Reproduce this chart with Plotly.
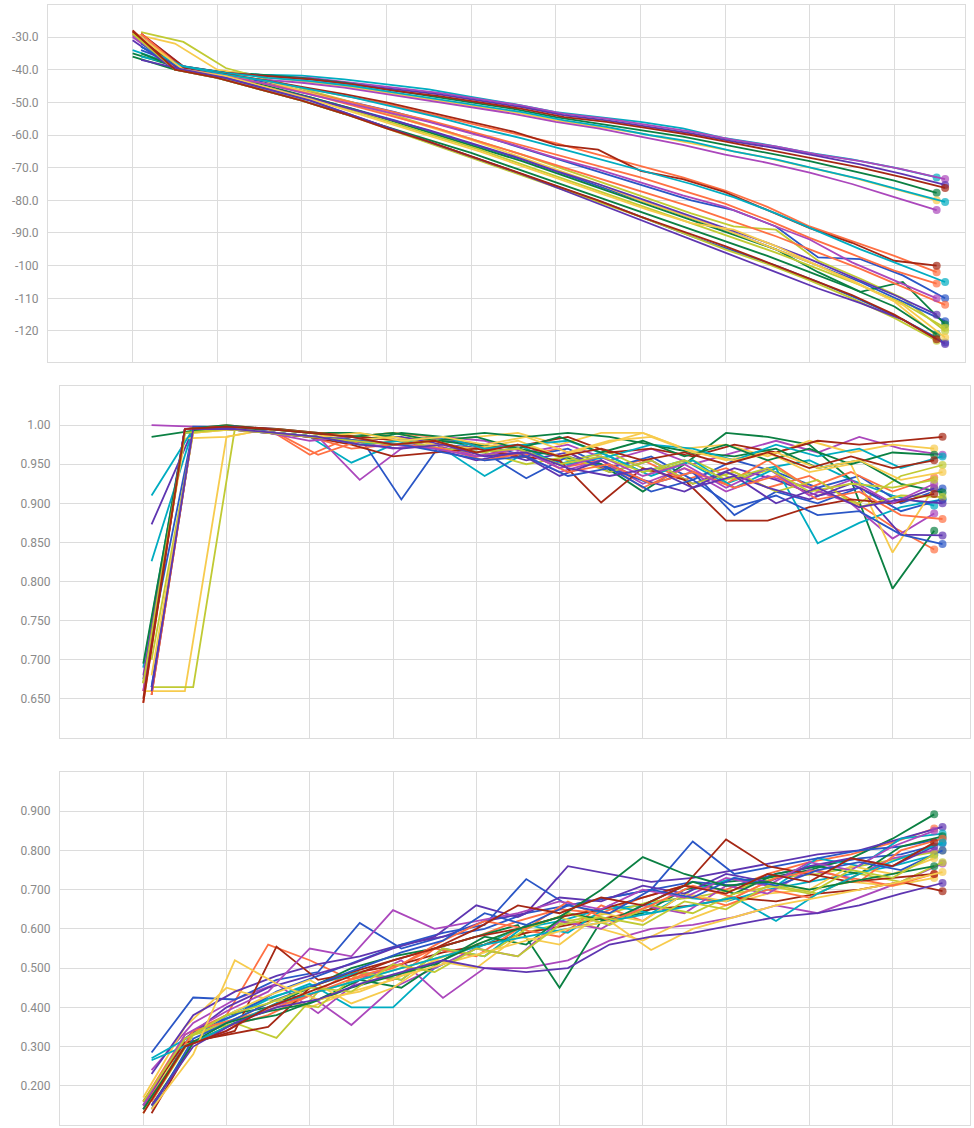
import plotly.graph_objects as go

# ---------------- data ----------------
palette = ['#ff7043', '#00acc1', '#ab47bc', '#2a56c6', '#0b8043',
           '#f7cb4d', '#c0ca33', '#5e35b1', '#a52714']

epochs = list(range(20))
run_offsets = [0, 0, 0.2, 0.2, 0, 0, 0.2, 0.2, 0.2,
               0, 0.2, 0, 0.2, 0.2, 0, 0.2, 0, 0,
               0.2, 0.2, 0, 0.2, 0, 0.2, 0, 0.2, 0]

loss_runs = [
    [-28, -39.5, -41, -43, -45.5, -48, -50.5, -53.5, -56.5, -59.5, -62.5, -66, -69.5, -73, -77, -82, -88, -92.5, -97, -102],
    [-34, -38.5, -40.5, -41.5, -41.8, -43, -44.5, -46, -48.3, -50.5, -53, -54.5, -56, -58, -61, -63, -65.5, -67.5, -70, -73],
    [-29, -39, -41, -42, -42.5, -44, -45.5, -47, -49, -51, -53.5, -55, -57, -59, -61.5, -63.5, -66, -68, -70.5, -73.5],
    [-34, -39, -41.5, -44, -47, -50, -53, -56.5, -60, -64, -68, -72, -76, -80, -83, -88, -97.5, -98, -103, -110],
    [-35, -39, -40.5, -41.5, -42.5, -44, -46, -48, -50, -52, -54.5, -56.5, -58.5, -60.5, -63, -65.5, -68, -71, -74, -77.7],
    [-29, -32, -40, -42, -43.5, -45, -47, -49, -51, -53, -55.5, -57.5, -59.5, -62, -64.5, -67, -70, -73, -76.5, -80],
    [-28.5, -31.5, -39.5, -43, -46.5, -50, -54, -58, -62, -66, -70.5, -75, -79.5, -84, -88, -89, -98.5, -104, -110, -120],
    [-30, -39.5, -41, -42, -43, -44.5, -46, -47.5, -49.5, -51.5, -54, -55.5, -57.5, -59.5, -62, -64, -66.5, -69, -72, -75.3],
    [-29, -39, -41, -42, -43, -44.5, -46.5, -48, -50, -52, -54.5, -56, -58, -60, -62.5, -65, -67.5, -70, -73, -76.2],
    [-29, -39.5, -41.5, -44, -46.5, -49.5, -52.5, -55.5, -59, -62.5, -66, -69.5, -73, -77, -81, -86, -91.5, -96.5, -101.5, -105.5],
    [-36, -39, -41, -42.5, -43.5, -45, -47, -49, -51, -53, -55.5, -57.5, -60, -62, -65, -67.5, -70.5, -73.5, -77, -80.5],
    [-30, -39.5, -41.5, -43, -44, -45.5, -47.5, -49.5, -51.5, -53.5, -56, -58, -60.5, -63, -66, -68.5, -71.5, -75, -79, -83],
    [-32, -40, -42, -45.5, -48.5, -52, -55.5, -59.5, -63.5, -67.5, -72, -76.5, -81, -85.5, -90, -95, -100, -105, -111, -117],
    [-35, -40, -42, -45, -48.5, -52, -56, -60, -64, -68, -72.5, -77, -81.5, -86, -90.5, -95, -102, -108, -105, -118],
    [-29, -40, -41.5, -43, -46.5, -50, -53.5, -57.5, -61.5, -66, -70.5, -75, -80, -84.5, -89, -94, -99, -104.5, -111, -121.5],
    [-31, -40, -42.5, -45.5, -49, -52.5, -56.5, -60.5, -64.5, -69, -73.5, -78, -82.5, -87, -91.5, -96, -101, -106, -111.5, -119],
    [-31, -40, -42, -45, -48, -51.5, -55, -58.5, -62.5, -66.5, -71, -75, -79.5, -84, -88.5, -93, -98, -103.5, -109, -115],
    [-28.5, -39, -41, -43, -45.3, -47.5, -50, -53, -56, -59, -63, -64.5, -71, -73.5, -77.5, -83, -88.5, -93, -98.5, -100],
    [-29, -40, -42, -44.5, -47.5, -51, -54.5, -58, -62, -66, -70, -74, -78, -82, -86.5, -91, -96, -101, -106.5, -112],
    [-33, -39, -41.5, -43.5, -46, -48.5, -51.5, -54.5, -58, -61, -64.5, -68, -71.5, -75, -79, -84, -89.5, -95, -100, -105],
    [-29.5, -39.5, -41.5, -44, -47, -50, -53, -56, -59.5, -63, -67, -70.5, -74.5, -78.5, -82, -87, -92, -99, -104.5, -110],
    [-33, -40, -42.5, -46, -49.5, -54, -58.5, -63, -67.5, -72, -76.5, -81, -86, -91, -95.5, -100, -105, -110.5, -116.5, -123.5],
    [-36, -40, -42.5, -46, -49.5, -53.5, -57.5, -61.5, -65.5, -70, -74.5, -79, -83.5, -88, -92.5, -97, -102, -107, -112.5, -121],
    [-30, -40, -42, -45.5, -49, -53, -57, -61, -65, -69.5, -74, -78.5, -83, -87, -89, -94, -100, -106, -112, -122],
    [-29, -40, -42.5, -46, -49.5, -53.5, -58, -62.5, -67, -71.5, -76, -80.5, -85, -90, -95, -99.5, -104.5, -110, -116, -123],
    [-37, -40, -42.5, -46, -49.5, -54, -58.5, -63, -67.5, -72, -77, -82, -87, -92, -97, -102, -107, -111.5, -116.5, -124],
    [-28, -40, -42.5, -46, -49.5, -53.5, -58, -62, -66.5, -71, -75.5, -80, -85, -89.5, -94, -99, -104, -109, -115, -122.5],
]

acc_runs = [
    [0.645, 0.995, 1.0, 0.995, 0.962, 0.985, 0.99, 0.985, 0.975, 0.96, 0.97, 0.945, 0.955, 0.93, 0.945, 0.92, 0.935, 0.905, 0.87, 0.841],
    [0.69, 0.995, 0.995, 0.99, 0.985, 0.952, 0.975, 0.985, 0.97, 0.975, 0.95, 0.965, 0.94, 0.955, 0.925, 0.945, 0.955, 0.93, 0.91, 0.897],
    [1.0, 0.998, 0.997, 0.99, 0.985, 0.93, 0.97, 0.985, 0.98, 0.965, 0.975, 0.955, 0.97, 0.95, 0.965, 0.98, 0.965, 0.985, 0.97, 0.962],
    [0.665, 0.998, 0.998, 0.995, 0.99, 0.985, 0.905, 0.98, 0.975, 0.96, 0.97, 0.945, 0.96, 0.93, 0.955, 0.94, 0.92, 0.935, 0.9, 0.919],
    [0.67, 0.995, 1.0, 0.995, 0.99, 0.99, 0.985, 0.98, 0.975, 0.97, 0.96, 0.95, 0.915, 0.95, 0.99, 0.985, 0.975, 0.93, 0.791, 0.865],
    [0.66, 0.66, 0.985, 0.995, 0.99, 0.985, 0.99, 0.98, 0.985, 0.99, 0.975, 0.99, 0.99, 0.97, 0.975, 0.96, 0.98, 0.965, 0.975, 0.97],
    [0.665, 0.665, 0.995, 0.995, 0.99, 0.985, 0.98, 0.985, 0.97, 0.975, 0.955, 0.965, 0.94, 0.955, 0.93, 0.945, 0.915, 0.9, 0.935, 0.949],
    [0.873, 0.995, 0.998, 0.99, 0.985, 0.98, 0.985, 0.975, 0.97, 0.955, 0.965, 0.94, 0.955, 0.925, 0.945, 0.93, 0.91, 0.92, 0.86, 0.859],
    [0.655, 0.995, 0.998, 0.995, 0.99, 0.985, 0.98, 0.985, 0.97, 0.975, 0.985, 0.965, 0.97, 0.96, 0.975, 0.965, 0.98, 0.975, 0.98, 0.985],
    [0.66, 0.995, 0.998, 0.99, 0.985, 0.97, 0.975, 0.98, 0.96, 0.97, 0.945, 0.955, 0.92, 0.945, 0.925, 0.955, 0.92, 0.94, 0.915, 0.933],
    [0.826, 0.995, 0.995, 0.99, 0.985, 0.98, 0.975, 0.97, 0.935, 0.965, 0.95, 0.96, 0.935, 0.955, 0.92, 0.945, 0.849, 0.875, 0.895, 0.905],
    [0.68, 0.995, 0.995, 0.99, 0.985, 0.98, 0.97, 0.975, 0.96, 0.965, 0.94, 0.955, 0.925, 0.945, 0.915, 0.935, 0.92, 0.9, 0.855, 0.887],
    [0.73, 0.995, 0.995, 0.99, 0.985, 0.98, 0.975, 0.97, 0.965, 0.932, 0.96, 0.945, 0.925, 0.94, 0.885, 0.915, 0.9, 0.92, 0.89, 0.905],
    [0.985, 0.993, 0.995, 0.99, 0.985, 0.98, 0.99, 0.985, 0.99, 0.985, 0.99, 0.985, 0.975, 0.965, 0.96, 0.97, 0.945, 0.955, 0.925, 0.914],
    [0.67, 0.983, 0.985, 0.995, 0.99, 0.98, 0.985, 0.975, 0.97, 0.98, 0.96, 0.975, 0.99, 0.97, 0.955, 0.965, 0.94, 0.95, 0.837, 0.92],
    [0.70, 0.99, 0.995, 0.99, 0.985, 0.975, 0.98, 0.97, 0.965, 0.95, 0.96, 0.94, 0.955, 0.925, 0.94, 0.915, 0.93, 0.895, 0.91, 0.908],
    [0.675, 0.995, 0.995, 0.99, 0.985, 0.98, 0.975, 0.97, 0.955, 0.965, 0.935, 0.955, 0.93, 0.915, 0.94, 0.92, 0.905, 0.925, 0.9, 0.919],
    [0.645, 0.995, 0.998, 0.99, 0.985, 0.975, 0.96, 0.965, 0.97, 0.96, 0.955, 0.901, 0.945, 0.93, 0.878, 0.878, 0.895, 0.905, 0.9, 0.912],
    [0.655, 0.995, 0.995, 0.99, 0.962, 0.98, 0.975, 0.97, 0.955, 0.965, 0.94, 0.95, 0.925, 0.94, 0.92, 0.935, 0.905, 0.915, 0.885, 0.88],
    [0.91, 0.995, 0.995, 0.99, 0.985, 0.975, 0.98, 0.985, 0.97, 0.975, 0.98, 0.96, 0.975, 0.97, 0.955, 0.975, 0.96, 0.97, 0.945, 0.96],
    [0.66, 0.995, 0.995, 0.99, 0.98, 0.985, 0.975, 0.97, 0.96, 0.97, 0.945, 0.96, 0.935, 0.95, 0.92, 0.945, 0.91, 0.93, 0.9, 0.925],
    [0.665, 0.995, 0.998, 0.99, 0.985, 0.98, 0.975, 0.965, 0.955, 0.96, 0.935, 0.945, 0.915, 0.93, 0.895, 0.91, 0.885, 0.89, 0.86, 0.848],
    [0.695, 0.99, 0.995, 0.995, 0.99, 0.985, 0.99, 0.98, 0.985, 0.97, 0.985, 0.965, 0.98, 0.96, 0.975, 0.955, 0.97, 0.95, 0.965, 0.962],
    [0.68, 0.99, 0.995, 0.99, 0.985, 0.99, 0.98, 0.985, 0.975, 0.985, 0.965, 0.98, 0.985, 0.965, 0.955, 0.965, 0.945, 0.955, 0.93, 0.94],
    [0.67, 0.99, 0.995, 0.99, 0.985, 0.98, 0.975, 0.98, 0.965, 0.97, 0.95, 0.96, 0.94, 0.955, 0.93, 0.945, 0.915, 0.925, 0.92, 0.93],
    [0.66, 0.995, 0.995, 0.99, 0.985, 0.975, 0.97, 0.975, 0.96, 0.965, 0.945, 0.935, 0.945, 0.92, 0.935, 0.9, 0.92, 0.895, 0.905, 0.9],
    [0.65, 0.995, 0.998, 0.995, 0.99, 0.985, 0.975, 0.98, 0.965, 0.975, 0.96, 0.97, 0.955, 0.965, 0.95, 0.965, 0.945, 0.96, 0.945, 0.955],
]

f1_runs = [
    [0.16, 0.33, 0.38, 0.56, 0.52, 0.47, 0.50, 0.55, 0.58, 0.62, 0.65, 0.64, 0.68, 0.71, 0.70, 0.74, 0.77, 0.79, 0.82, 0.856],
    [0.15, 0.32, 0.37, 0.42, 0.46, 0.40, 0.40, 0.50, 0.55, 0.60, 0.62, 0.65, 0.66, 0.68, 0.67, 0.70, 0.72, 0.74, 0.76, 0.788],
    [0.24, 0.36, 0.42, 0.46, 0.385, 0.47, 0.52, 0.424, 0.50, 0.50, 0.52, 0.57, 0.60, 0.61, 0.63, 0.66, 0.64, 0.68, 0.72, 0.767],
    [0.285, 0.425, 0.42, 0.47, 0.49, 0.615, 0.55, 0.58, 0.60, 0.64, 0.66, 0.68, 0.70, 0.72, 0.71, 0.74, 0.76, 0.78, 0.79, 0.818],
    [0.14, 0.32, 0.38, 0.40, 0.45, 0.50, 0.53, 0.55, 0.58, 0.61, 0.45, 0.62, 0.64, 0.70, 0.72, 0.73, 0.75, 0.78, 0.83, 0.892],
    [0.17, 0.35, 0.45, 0.42, 0.40, 0.44, 0.47, 0.52, 0.56, 0.60, 0.63, 0.60, 0.57, 0.62, 0.66, 0.69, 0.70, 0.72, 0.71, 0.73],
    [0.16, 0.33, 0.36, 0.322, 0.44, 0.47, 0.50, 0.53, 0.56, 0.59, 0.62, 0.64, 0.67, 0.68, 0.70, 0.73, 0.74, 0.76, 0.78, 0.80],
    [0.23, 0.38, 0.44, 0.48, 0.51, 0.53, 0.56, 0.58, 0.62, 0.64, 0.76, 0.74, 0.72, 0.73, 0.75, 0.77, 0.79, 0.80, 0.83, 0.86],
    [0.13, 0.31, 0.34, 0.555, 0.47, 0.49, 0.51, 0.54, 0.56, 0.59, 0.61, 0.63, 0.65, 0.66, 0.68, 0.67, 0.69, 0.70, 0.72, 0.696],
    [0.15, 0.30, 0.35, 0.38, 0.43, 0.49, 0.47, 0.55, 0.53, 0.60, 0.58, 0.66, 0.62, 0.69, 0.66, 0.70, 0.68, 0.73, 0.71, 0.74],
    [0.27, 0.33, 0.39, 0.43, 0.46, 0.49, 0.47, 0.55, 0.53, 0.61, 0.59, 0.66, 0.64, 0.70, 0.73, 0.71, 0.78, 0.76, 0.83, 0.843],
    [0.14, 0.30, 0.34, 0.40, 0.43, 0.355, 0.45, 0.50, 0.55, 0.53, 0.62, 0.60, 0.66, 0.64, 0.71, 0.69, 0.75, 0.73, 0.78, 0.80],
    [0.17, 0.34, 0.38, 0.44, 0.48, 0.52, 0.56, 0.59, 0.61, 0.727, 0.66, 0.68, 0.70, 0.823, 0.74, 0.76, 0.78, 0.80, 0.81, 0.83],
    [0.15, 0.31, 0.36, 0.38, 0.42, 0.47, 0.45, 0.52, 0.58, 0.56, 0.64, 0.62, 0.67, 0.72, 0.69, 0.74, 0.76, 0.74, 0.81, 0.836],
    [0.13, 0.32, 0.38, 0.43, 0.47, 0.41, 0.45, 0.52, 0.50, 0.58, 0.56, 0.64, 0.62, 0.69, 0.67, 0.72, 0.70, 0.76, 0.74, 0.78],
    [0.17, 0.33, 0.37, 0.42, 0.40, 0.49, 0.47, 0.55, 0.53, 0.60, 0.64, 0.61, 0.66, 0.64, 0.69, 0.71, 0.69, 0.74, 0.72, 0.77],
    [0.15, 0.32, 0.40, 0.45, 0.48, 0.51, 0.55, 0.58, 0.66, 0.63, 0.68, 0.67, 0.71, 0.69, 0.74, 0.72, 0.76, 0.78, 0.76, 0.81],
    [0.16, 0.31, 0.33, 0.35, 0.45, 0.49, 0.52, 0.55, 0.58, 0.60, 0.63, 0.65, 0.68, 0.71, 0.828, 0.76, 0.74, 0.72, 0.73, 0.74],
    [0.16, 0.34, 0.37, 0.40, 0.44, 0.48, 0.51, 0.57, 0.62, 0.60, 0.67, 0.62, 0.66, 0.71, 0.68, 0.73, 0.75, 0.72, 0.80, 0.83],
    [0.265, 0.31, 0.36, 0.41, 0.44, 0.47, 0.50, 0.53, 0.56, 0.58, 0.60, 0.62, 0.64, 0.66, 0.68, 0.62, 0.69, 0.74, 0.78, 0.82],
    [0.15, 0.33, 0.39, 0.44, 0.55, 0.53, 0.648, 0.60, 0.62, 0.64, 0.67, 0.65, 0.70, 0.68, 0.73, 0.71, 0.77, 0.75, 0.81, 0.85],
    [0.14, 0.32, 0.37, 0.42, 0.46, 0.50, 0.54, 0.57, 0.64, 0.61, 0.66, 0.64, 0.70, 0.68, 0.73, 0.71, 0.75, 0.77, 0.75, 0.80],
    [0.14, 0.30, 0.36, 0.39, 0.41, 0.45, 0.48, 0.51, 0.56, 0.60, 0.63, 0.70, 0.783, 0.74, 0.71, 0.72, 0.70, 0.72, 0.74, 0.76],
    [0.14, 0.28, 0.52, 0.46, 0.42, 0.44, 0.48, 0.51, 0.54, 0.57, 0.60, 0.62, 0.546, 0.60, 0.63, 0.66, 0.68, 0.70, 0.72, 0.745],
    [0.16, 0.32, 0.38, 0.41, 0.45, 0.44, 0.51, 0.49, 0.55, 0.53, 0.61, 0.63, 0.61, 0.67, 0.65, 0.71, 0.69, 0.75, 0.73, 0.79],
    [0.15, 0.30, 0.36, 0.40, 0.42, 0.46, 0.49, 0.52, 0.50, 0.49, 0.50, 0.56, 0.58, 0.59, 0.61, 0.63, 0.64, 0.66, 0.69, 0.717],
    [0.13, 0.30, 0.34, 0.40, 0.44, 0.48, 0.52, 0.55, 0.60, 0.66, 0.64, 0.68, 0.66, 0.71, 0.69, 0.74, 0.72, 0.78, 0.76, 0.82],
]

loss_ticks = [-30, -40, -50, -60, -70, -80, -90, -100, -110, -120]
loss_tick_text = ['-30.0', '-40.0', '-50.0', '-60.0', '-70.0', '-80.0', '-90.0', '-100', '-110', '-120']
acc_ticks = [1.0, 0.95, 0.9, 0.85, 0.8, 0.75, 0.7, 0.65]
acc_tick_text = ['1.00', '0.950', '0.900', '0.850', '0.800', '0.750', '0.700', '0.650']
f1_ticks = [0.9, 0.8, 0.7, 0.6, 0.5, 0.4, 0.3, 0.2]
f1_tick_text = ['0.900', '0.800', '0.700', '0.600', '0.500', '0.400', '0.300', '0.200']

# ---------------- figure ----------------
W, H = 974, 1128
fig = go.Figure()

panels = [
    (loss_runs, 'x', 'y'),
    (acc_runs, 'x2', 'y2'),
    (f1_runs, 'x3', 'y3'),
]

n_pts = len(epochs)
for runs, xa, ya in panels:
    for i, vals in enumerate(runs):
        color = palette[i % len(palette)]
        xs = [e + run_offsets[i] for e in epochs]
        sizes = [0] * (n_pts - 1) + [8]
        fig.add_trace(go.Scatter(
            x=xs, y=vals, xaxis=xa, yaxis=ya,
            mode='lines+markers',
            line=dict(color=color, width=1.8),
            marker=dict(color=color, size=sizes, line=dict(width=0)),
            showlegend=False, hoverinfo='skip'))

grid = '#dcdcdc'
tickfont = dict(family='Roboto, Open Sans, sans-serif', size=12, color='#8a8a8a')


def xaxis(domain, rng, anchor):
    return dict(domain=domain, range=rng, anchor=anchor, showticklabels=False,
                tick0=0, dtick=2, showgrid=True, gridcolor=grid, gridwidth=1,
                zeroline=False, showline=True, linecolor=grid, linewidth=1,
                mirror=True, ticks='')


def yaxis(domain, rng, anchor, tv, tt):
    return dict(domain=domain, range=rng, anchor=anchor, tickvals=tv, ticktext=tt,
                showgrid=True, gridcolor=grid, gridwidth=1, zeroline=False,
                showline=True, linecolor=grid, linewidth=1, mirror=True,
                ticks='', ticklabelstandoff=6, tickfont=tickfont)


fig.update_layout(
    width=W, height=H,
    margin=dict(l=0, r=0, t=0, b=0),
    paper_bgcolor='white', plot_bgcolor='white',
    xaxis=xaxis([48 / W, 965 / W], [-2, 19.67], 'y'),
    yaxis=yaxis([1 - 362 / H, 1 - 5 / H], [-129.5, -20.2], 'x', loss_ticks, loss_tick_text),
    xaxis2=xaxis([60 / W, 970 / W], [-2, 19.86], 'y2'),
    yaxis2=yaxis([1 - 738 / H, 1 - 386 / H], [0.6, 1.05], 'x2', acc_ticks, acc_tick_text),
    xaxis3=xaxis([60 / W, 970 / W], [-2, 19.86], 'y3'),
    yaxis3=yaxis([1 - 1125 / H, 1 - 772 / H], [0.1, 1.0], 'x3', f1_ticks, f1_tick_text),
)

fig.write_html('out.html', config={'displayModeBar': False},
               post_script="document.body.style.margin='0';document.body.style.overflow='hidden';")
